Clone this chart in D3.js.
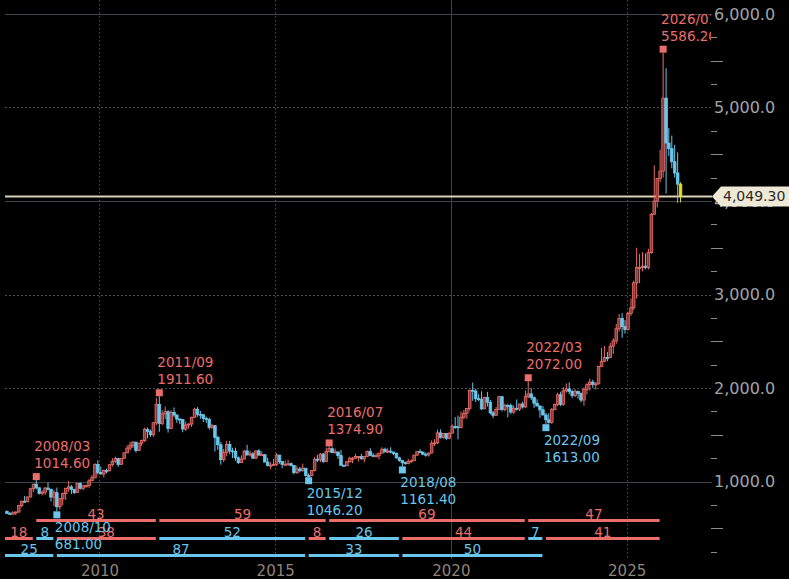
<!DOCTYPE html>
<html>
<head>
<meta charset="utf-8">
<script src="https://cdn.jsdelivr.net/npm/d3@7"></script>
<style>
  html, body { margin: 0; padding: 0; background: #000; }
  svg { display: block; font-family: 'DejaVu Sans', Verdana, sans-serif; }
</style>
</head>
<body>
<div id="chart"></div>
<script>
// monthly bars, first bar is 2007/05
const firstYear = 2007, firstMonthIdx = 4;

const opens = [
  679, 659, 650, 665, 673, 743, 789, 783,                                   // 2007
  834, 923, 972, 933, 871, 886, 930, 918, 833, 880, 730, 815,               // 2008
  870, 928, 942, 916, 883, 979, 927, 955, 955, 1008, 1040, 1182,            // 2009
  1096, 1081, 1118, 1113, 1180, 1213, 1245, 1181, 1248, 1307, 1357, 1386,   // 2010
  1421, 1332, 1410, 1439, 1556, 1536, 1500, 1628, 1825, 1620, 1722, 1746,   // 2011
  1566, 1737, 1711, 1668, 1664, 1561, 1604, 1614, 1687, 1773, 1719, 1713,   // 2012
  1675, 1663, 1579, 1597, 1472, 1393, 1234, 1313, 1396, 1327, 1323, 1253,   // 2013
  1202, 1240, 1326, 1284, 1296, 1250, 1327, 1282, 1287, 1208, 1171, 1175,   // 2014
  1184, 1283, 1213, 1183, 1184, 1190, 1172, 1095, 1134, 1115, 1142, 1065,   // 2015
  1061, 1118, 1238, 1233, 1293, 1215, 1322, 1351, 1309, 1316, 1277, 1173,   // 2016
  1168, 1211, 1249, 1249, 1268, 1268, 1242, 1269, 1322, 1280, 1271, 1275,   // 2017
  1303, 1345, 1318, 1325, 1315, 1299, 1253, 1224, 1201, 1192, 1215, 1222,   // 2018
  1282, 1321, 1313, 1292, 1284, 1305, 1409, 1413, 1520, 1472, 1513, 1463,   // 2019
  1517, 1589, 1585, 1577, 1687, 1730, 1781, 1975, 1968, 1886, 1879, 1777,   // 2020
  1898, 1847, 1734, 1708, 1769, 1907, 1770, 1814, 1813, 1743, 1783, 1774,   // 2021
  1829, 1797, 1909, 1937, 1897, 1837, 1807, 1766, 1711, 1660, 1633, 1768,   // 2022
  1824, 1928, 1826, 1969, 1990, 1963, 1919, 1965, 1940, 1871, 1983, 2036,   // 2023
  2063, 2039, 2044, 2230, 2286, 2327, 2326, 2447, 2503, 2634, 2744, 2657,   // 2024
  2625, 2798, 2858, 3124, 3288, 3289, 3303, 3290, 3448, 3858, 4000, 4240,   // 2025
  4320, 5100, 4620, 4560, 4420, 4300, 4180                                  // 2026
];
const highs = [
  691, 674, 683, 682, 745, 795, 846, 838,
  933, 975, 1014.6, 935, 904, 941, 988, 918, 912, 935, 825, 884,
  931, 1006, 962, 917, 981, 990, 960, 966, 1024, 1070, 1195, 1226,
  1162, 1128, 1137, 1180, 1249, 1266, 1245, 1250, 1307, 1388, 1424, 1432,
  1424, 1411, 1448, 1576, 1578, 1556, 1632, 1895, 1911.6, 1763, 1802, 1763,
  1764, 1791, 1718, 1676, 1665, 1640, 1625, 1692, 1790, 1796, 1755, 1723,
  1695, 1684, 1617, 1605, 1488, 1424, 1348, 1434, 1434, 1361, 1362, 1267,
  1280, 1336, 1392, 1331, 1315, 1332, 1345, 1323, 1287, 1255, 1208, 1239,
  1303, 1284, 1219, 1224, 1232, 1205, 1175, 1170, 1157, 1191, 1142, 1088,
  1123, 1263, 1283, 1304, 1304, 1362, 1374.9, 1367, 1352, 1318, 1338, 1181,
  1220, 1264, 1261, 1296, 1270, 1296, 1272, 1331, 1357, 1306, 1299, 1307,
  1366, 1361, 1356, 1366, 1318, 1309, 1265, 1226, 1214, 1243, 1237, 1284,
  1326, 1347, 1324, 1310, 1306, 1439, 1452, 1555, 1557, 1518, 1516, 1525,
  1611, 1689, 1704, 1747, 1765, 1785, 1984, 2058, 1992, 1933, 1965, 1905,
  1959, 1872, 1755, 1798, 1913, 1916, 1832, 1832, 1834, 1814, 1877, 1832,
  1853, 1974, 2072.0, 1998, 1910, 1880, 1814, 1807, 1735, 1730, 1786, 1833,
  1949, 1960, 2009, 2049, 2060, 1983, 1987, 1970, 1953, 2009, 2052, 2100,
  2088, 2065, 2236, 2431, 2450, 2387, 2483, 2531, 2685, 2790, 2801, 2726,
  2817, 2956, 3148, 3500, 3435, 3452, 3439, 3489, 3871, 4381, 4245, 4550,
  5586.2, 5420, 4780, 4700, 4600, 4520, 4200
];
const lows = [
  651, 642, 648, 642, 668, 723, 778, 781,
  832, 889, 916, 862, 851, 857, 903, 786, 736, 681.0, 700, 745,
  802, 890, 866, 866, 882, 913, 905, 933, 934, 1003, 1033, 1075,
  1072, 1044, 1087, 1112, 1160, 1200, 1157, 1179, 1244, 1302, 1330, 1358,
  1309, 1324, 1381, 1422, 1462, 1478, 1478, 1603, 1532, 1603, 1667, 1523,
  1564, 1689, 1627, 1614, 1527, 1542, 1565, 1583, 1685, 1692, 1672, 1635,
  1626, 1555, 1562, 1321, 1338, 1180, 1208, 1271, 1292, 1251, 1221, 1186,
  1202, 1238, 1277, 1268, 1240, 1240, 1281, 1281, 1206, 1161, 1131, 1170,
  1167, 1190, 1142, 1170, 1169, 1162, 1077, 1080, 1098, 1106, 1052, 1046.2,
  1061, 1107, 1208, 1208, 1199, 1207, 1310, 1302, 1305, 1241, 1172, 1165,
  1166, 1200, 1195, 1241, 1214, 1236, 1205, 1260, 1271, 1260, 1264, 1237,
  1302, 1307, 1303, 1301, 1282, 1245, 1211, 1161.4, 1180, 1183, 1196, 1221,
  1276, 1303, 1281, 1266, 1266, 1300, 1381, 1400, 1459, 1459, 1445, 1453,
  1517, 1563, 1451, 1568, 1670, 1671, 1757, 1863, 1849, 1860, 1764, 1775,
  1802, 1717, 1677, 1704, 1765, 1750, 1750, 1688, 1721, 1722, 1759, 1753,
  1780, 1788, 1890, 1872, 1787, 1805, 1681, 1709, 1613.0, 1617, 1616, 1765,
  1805, 1805, 1810, 1950, 1932, 1893, 1903, 1885, 1846, 1810, 1931, 1973,
  2002, 1984, 2039, 2228, 2277, 2286, 2318, 2364, 2472, 2603, 2537, 2583,
  2614, 2772, 2833, 2957, 3121, 3247, 3268, 3268, 3436, 3850, 3930, 4200,
  4250, 4080, 4480, 4350, 4250, 3980, 3985
];
const closes = [
  659, 650, 665, 673, 743, 789, 783, 834,
  923, 972, 933, 871, 886, 930, 918, 833, 880, 730, 815, 870,
  928, 942, 916, 883, 979, 927, 955, 955, 1008, 1040, 1182, 1096,
  1081, 1118, 1113, 1180, 1213, 1245, 1181, 1248, 1307, 1357, 1386, 1421,
  1332, 1410, 1439, 1556, 1536, 1500, 1628, 1825, 1620, 1722, 1746, 1566,
  1737, 1711, 1668, 1664, 1561, 1604, 1614, 1687, 1773, 1719, 1713, 1675,
  1663, 1579, 1597, 1472, 1393, 1234, 1313, 1396, 1327, 1323, 1253, 1202,
  1240, 1326, 1284, 1296, 1250, 1327, 1282, 1287, 1208, 1171, 1175, 1184,
  1283, 1213, 1183, 1184, 1190, 1172, 1095, 1134, 1115, 1142, 1065, 1061,
  1118, 1238, 1233, 1293, 1215, 1322, 1351, 1309, 1316, 1277, 1173, 1168,
  1211, 1249, 1249, 1268, 1268, 1242, 1269, 1322, 1280, 1271, 1275, 1303,
  1345, 1318, 1325, 1315, 1299, 1253, 1224, 1201, 1192, 1215, 1222, 1282,
  1321, 1313, 1292, 1284, 1305, 1409, 1413, 1520, 1472, 1513, 1463, 1517,
  1589, 1585, 1577, 1687, 1730, 1781, 1975, 1968, 1886, 1879, 1777, 1898,
  1847, 1734, 1708, 1769, 1907, 1770, 1814, 1813, 1743, 1783, 1774, 1829,
  1797, 1909, 1937, 1897, 1837, 1807, 1766, 1711, 1660, 1633, 1768, 1824,
  1928, 1826, 1969, 1990, 1963, 1919, 1965, 1940, 1871, 1983, 2036, 2063,
  2039, 2044, 2230, 2286, 2327, 2326, 2447, 2503, 2634, 2744, 2657, 2625,
  2798, 2858, 3124, 3288, 3289, 3303, 3290, 3448, 3858, 4000, 4240, 4320,
  5100, 4620, 4560, 4420, 4300, 4180, 4049.3
];

// zigzag pivots
const zigzagStart = '2006-10';
const pivotMonths = ['2008-03', '2008-10', '2011-09', '2015-12', '2016-07', '2018-08', '2022-03', '2022-09', '2026-01'];
const pivotKinds  = ['H', 'L', 'H', 'L', 'H', 'L', 'H', 'L', 'H'];
// bar counts shown under the chart
const peakCounts   = [43, 59, 69, 47];            // peak to peak
const legCounts    = [18, 8, 38, 52, 8, 26, 44, 7, 41];
const troughCounts = [25, 87, 33, 50];            // trough to trough

const yTicks = [1000, 2000, 3000, 4000, 5000, 6000];
const xYears = [2010, 2015, 2020, 2025];

const W = 789, H = 579;
const plotL = 5, plotR = 712;
const RED = '#ec6e6a', CYAN = '#6ac6ea', YEL = '#e6dc28';

const svg = d3.select('#chart').append('svg').attr('width', W).attr('height', H);
svg.append('rect').attr('width', W).attr('height', H).attr('fill', '#000');

const x = d3.scaleTime()
  .domain([new Date(2007, 3, 25), new Date(2027, 5, 7)])
  .range([plotL, plotR]);
const y = d3.scaleLinear().domain([1000, 6000]).range([481.5, 14]);

const monthDate = (s) => { const [yy, mm] = s.split('-').map(Number); return new Date(yy, mm - 1, 15); };
const bars = closes.map((c, i) => ({
  date: new Date(firstYear, firstMonthIdx + i, 15),
  o: opens[i], h: highs[i], l: lows[i], c: c, last: i === closes.length - 1
}));
const barIndex = (s) => { const d = monthDate(s); return bars.findIndex(b => +b.date === +d); };

svg.append('clipPath').attr('id', 'plotclip')
  .append('rect').attr('x', plotL).attr('y', 0).attr('width', plotR - plotL - 1).attr('height', H);

// grid
const grid = svg.append('g');
grid.selectAll('line.h').data(yTicks).join('line')
  .attr('x1', plotL).attr('x2', plotR)
  .attr('y1', d => Math.round(y(d)) + 0.5).attr('y2', d => Math.round(y(d)) + 0.5)
  .attr('stroke', d => [1000, 4000, 6000].includes(d) ? '#3e4148' : '#4a4e56')
  .attr('stroke-dasharray', d => [1000, 4000, 6000].includes(d) ? null : '2,2');
grid.selectAll('line.v').data(xYears).join('line')
  .attr('x1', d => Math.round(x(new Date(d, 0, 1))) + 0.5).attr('x2', d => Math.round(x(new Date(d, 0, 1))) + 0.5)
  .attr('y1', 0).attr('y2', 559)
  .attr('stroke', d => d === 2020 ? '#3e4148' : '#4a4e56')
  .attr('stroke-dasharray', d => d === 2020 ? null : '1.5,2.5');

// current price line
const lastPrice = closes[closes.length - 1];
svg.append('line')
  .attr('x1', plotL).attr('x2', plotR)
  .attr('y1', y(lastPrice)).attr('y2', y(lastPrice))
  .attr('stroke', '#d9d2b6').attr('stroke-width', 2);

// candles
const plot = svg.append('g').attr('clip-path', 'url(#plotclip)');
const colorOf = b => b.last ? YEL : (b.c >= b.o ? RED : CYAN);
const candle = plot.append('g').selectAll('g').data(bars).join('g');
candle.append('line')
  .attr('x1', b => x(b.date)).attr('x2', b => x(b.date))
  .attr('y1', b => y(b.h)).attr('y2', b => y(b.l))
  .attr('stroke', colorOf).attr('stroke-width', 1);
candle.append('rect')
  .attr('x', b => x(b.date) - 1.3).attr('width', 2.6)
  .attr('y', b => y(Math.max(b.o, b.c)))
  .attr('height', b => Math.max(1, Math.abs(y(b.o) - y(b.c))))
  .attr('fill', b => b.last ? YEL : (b.c >= b.o ? '#8c3a38' : CYAN))
  .attr('stroke', colorOf).attr('stroke-width', 0.8);

// bar count rows
const pts = [zigzagStart].concat(pivotMonths);
const kinds = ['L'].concat(pivotKinds);
const px = s => x(monthDate(s));
function countRow(rowY, segs) {
  const g = plot.append('g');
  segs.forEach(s => {
    const x0 = Math.max(plotL, px(s.from)), x1 = px(s.to) - 3.5;
    g.append('line').attr('x1', x0).attr('x2', x1).attr('y1', rowY).attr('y2', rowY)
      .attr('stroke', s.color).attr('stroke-width', 3);
    g.append('text').attr('x', (x0 + x1) / 2).attr('y', rowY - 1.5)
      .attr('text-anchor', 'middle').attr('font-size', 13.5).attr('fill', s.color)
      .text(s.n);
  });
}
const peaks = pts.filter((p, i) => kinds[i] === 'H');
const troughs = pts.filter((p, i) => kinds[i] === 'L');
countRow(520.5, peakCounts.map((n, i) => ({ from: peaks[i], to: peaks[i + 1], n, color: RED })));
countRow(538.5, legCounts.map((n, i) => ({ from: pts[i], to: pts[i + 1], n, color: kinds[i + 1] === 'H' ? RED : CYAN })));
countRow(555.5, troughCounts.map((n, i) => ({ from: troughs[i], to: troughs[i + 1], n, color: CYAN })));

// pivot markers and labels
pivotMonths.forEach((m, i) => {
  const b = bars[barIndex(m)];
  const isHigh = pivotKinds[i] === 'H';
  const v = isHigh ? b.h : b.l;
  const cx = x(b.date);
  const col = isHigh ? RED : CYAN;
  const top = isHigh ? y(v) - 7 : y(v);
  plot.append('rect').attr('x', cx - 3.5).attr('y', top).attr('width', 7).attr('height', 7).attr('fill', col);
  const dateTxt = m.replace('-', '/');
  const valTxt = v.toFixed(2);
  const l1 = isHigh ? top - 22 : top + 21;
  const l2 = isHigh ? top - 5 : top + 38;
  plot.append('text').attr('x', cx - 2).attr('y', l1).attr('font-size', 13.5).attr('fill', col).text(dateTxt);
  plot.append('text').attr('x', cx - 2).attr('y', l2).attr('font-size', 13.5).attr('fill', col).text(valTxt);
});

// right axis
const minor = d3.range(250, 6000, 250).filter(v => v % 1000 !== 0);
svg.append('g').selectAll('line').data(minor).join('line')
  .attr('x1', 711).attr('x2', d => d % 500 === 0 ? 723 : 717)
  .attr('y1', d => Math.round(y(d)) + 0.5).attr('y2', d => Math.round(y(d)) + 0.5)
  .attr('stroke', '#8a8c90');

const yAxis = svg.append('g').attr('transform', `translate(${plotR},0)`)
  .call(d3.axisRight(y).tickValues(yTicks).tickFormat(d3.format(',.1f')).tickSize(0).tickPadding(2));
yAxis.select('.domain').remove();
yAxis.selectAll('text').attr('font-size', 16).attr('fill', '#a2a4a8').attr('font-family', 'DejaVu Sans');

const xAxis = svg.append('g').attr('transform', 'translate(0,562)')
  .call(d3.axisBottom(x).tickValues(xYears.map(yy => new Date(yy, 0, 1)))
    .tickFormat(d3.timeFormat('%Y')).tickSize(0).tickPadding(3));
xAxis.select('.domain').remove();
xAxis.selectAll('text').attr('font-size', 15).attr('fill', '#8e8478').attr('font-family', 'DejaVu Sans');

// last price tag
const ty = y(lastPrice);
svg.append('path')
  .attr('d', `M712,${ty} L721,${ty - 10} L789,${ty - 10} L789,${ty + 10} L721,${ty + 10} Z`)
  .attr('fill', '#eee8d6');
svg.append('text').attr('x', 723).attr('y', ty + 5).attr('font-size', 14).attr('fill', '#2a2a2a')
  .text(d3.format(',.2f')(lastPrice));
</script>
</body>
</html>
